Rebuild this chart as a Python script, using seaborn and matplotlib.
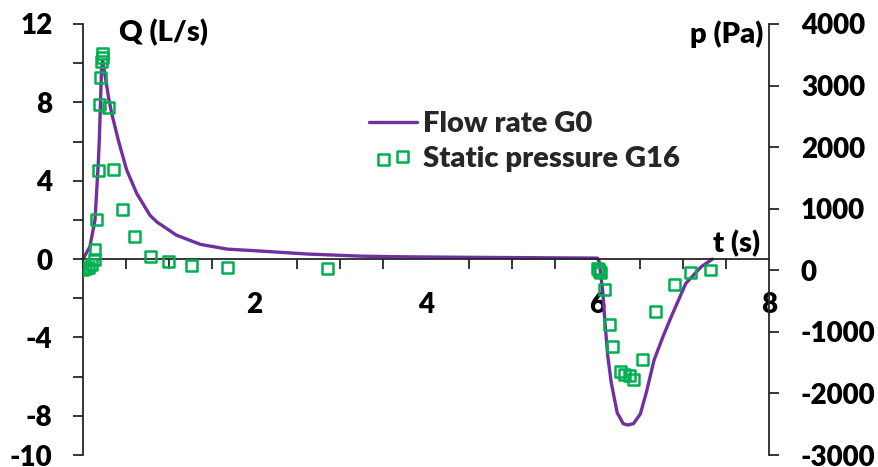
import matplotlib
matplotlib.use("Agg")
import matplotlib.pyplot as plt
from matplotlib.legend_handler import HandlerPathCollection
from matplotlib.ticker import FixedLocator, MultipleLocator, FuncFormatter
import pandas as pd
import seaborn as sns

# Flow rate G0 (left axis, L/s)
flow_t = [0.0, 0.08, 0.14, 0.16, 0.18, 0.19, 0.205, 0.215, 0.228, 0.26, 0.30,
          0.335, 0.412, 0.444, 0.51, 0.627, 0.78, 0.86, 1.09, 1.37, 1.68, 2.07,
          2.61, 3.24, 3.66, 4.5, 5.3, 6.0, 6.02, 6.06, 6.09, 6.12, 6.16, 6.23,
          6.30, 6.35, 6.42, 6.50, 6.57, 6.66, 6.76, 6.86, 7.03, 7.21, 7.34]
flow_q = [0.0, 0.63, 2.0, 3.5, 5.05, 6.07, 8.1, 9.6, 10.15, 9.3, 8.2,
          7.43, 6.07, 5.56, 4.54, 3.35, 2.24, 1.9, 1.22, 0.75, 0.51, 0.41,
          0.26, 0.15, 0.12, 0.09, 0.07, 0.05, -0.14, -1.6, -3.4, -4.95, -6.3, -7.85,
          -8.4, -8.47, -8.4, -7.9, -6.8, -5.15, -4.0, -2.94, -1.24, -0.39, 0.0]

# Static pressure G16 (right axis, Pa)
press_t = [0.0, 0.03, 0.07, 0.10, 0.13, 0.14, 0.16, 0.18, 0.19, 0.207, 0.218,
           0.222, 0.225, 0.296, 0.354, 0.46, 0.60, 0.79, 1.0, 1.27, 1.69, 2.85,
           6.0, 6.01, 6.02, 6.03, 6.08, 6.14, 6.18, 6.27, 6.31, 6.37, 6.42,
           6.53, 6.68, 6.90, 7.09, 7.32]
press_p = [20, 25, 50, 100, 170, 345, 820, 1615, 2700, 3135, 3390,
           3450, 3515, 2640, 1640, 980, 550, 230, 140, 85, 45, 25,
           30, 10, -20, -40, -305, -885, -1240, -1645, -1700, -1715, -1770,
           -1445, -670, -225, -35, 5]

q_ticks = [12, 10, 8, 6, 4, 2, 0, -2, -4, -6, -8, -10]
q_labels = [12, 8, 4, 0, -4, -8, -10]
p_ticks = [4000, 3000, 2000, 1000, 0, -1000, -2000, -3000]
t_major = [2, 4, 6, 8]

purple = "#7030A0"
green = "#00B050"
ink = "#262626"
weight = "heavy"

sns.set_theme(style="white")
plt.rcParams["font.family"] = ["Lato", "DejaVu Sans"]
plt.rcParams["font.weight"] = weight
fs_tick = 20
fs_text = 21

W, H = 879, 467
fig = plt.figure(figsize=(W / 100, H / 100), dpi=100)
x0, x1, y0, y1 = 83, 769, 24, 455
ax = fig.add_axes([x0 / W, 1 - y1 / H, (x1 - x0) / W, (y1 - y0) / H])
ax2 = ax.twinx()

flow = pd.DataFrame({"t": flow_t, "Q": flow_q})
press = pd.DataFrame({"t": press_t, "p": press_p})

sns.lineplot(data=flow, x="t", y="Q", ax=ax, color=purple, lw=2.4,
             sort=False, estimator=None, label="Flow rate G0", legend=False)
sns.scatterplot(data=press, x="t", y="p", ax=ax2, marker="s", s=62,
                facecolor="none", edgecolor=green, linewidth=1.8,
                label="Static pressure G16", legend=False)
ax2.collections[0].set_facecolor("none")

ax.set_xlim(0, 8)
ax.set_ylim(-10, 12)
ax2.set_ylim(-3000, 4000)
ax.set_xlabel("")
ax.set_ylabel("")
ax2.set_ylabel("")
ax.grid(False)
ax2.grid(False)
ax.patch.set_alpha(0)

for s in ("top", "right"):
    ax.spines[s].set_visible(False)
for s in ("top", "bottom", "left"):
    ax2.spines[s].set_visible(False)
ax.spines["bottom"].set_position(("data", 0))
for a, s in ((ax, "left"), (ax, "bottom"), (ax2, "right")):
    a.spines[s].set_color(ink)
    a.spines[s].set_linewidth(1.3)

# y axes
ax.yaxis.set_major_locator(FixedLocator(q_ticks))
ax.yaxis.set_major_formatter(FuncFormatter(lambda v, _: f"{v:.0f}" if round(v) in q_labels else ""))
ax.tick_params(axis="y", direction="out", length=7, width=1.3, color=ink,
               labelsize=fs_tick, pad=15, labelcolor="black")
ax2.yaxis.set_major_locator(FixedLocator(p_ticks))
ax2.yaxis.set_major_formatter(FuncFormatter(lambda v, _: f"{v:.0f}"))
ax2.tick_params(axis="y", direction="out", length=7, width=1.3, color=ink,
                labelsize=fs_tick, pad=16, labelcolor="black")

# x axis on the zero line
ax.xaxis.set_major_locator(FixedLocator(t_major))
ax.xaxis.set_minor_locator(MultipleLocator(0.5))
ax.xaxis.set_major_formatter(FuncFormatter(lambda v, _: f"{v:.0f}"))
ax.tick_params(axis="x", which="major", direction="inout", length=12, width=1.3,
               color=ink, labelsize=fs_tick, pad=18, labelcolor="black")
ax.tick_params(axis="x", which="minor", direction="out", length=7, width=1.3,
               color=ink, bottom=True)
ax2.tick_params(axis="x", which="both", bottom=False, labelbottom=False)
for lab in ax.get_xticklabels() + ax.get_yticklabels() + ax2.get_yticklabels():
    lab.set_fontweight(weight)

# axis titles
tkw = dict(fontsize=fs_text, fontweight=weight, color="black", va="baseline", ha="left")
fig.text(119 / W, 1 - 41 / H, "Q (L/s)", **tkw)
fig.text(690 / W, 1 - 43 / H, "p (Pa)", **tkw)
fig.text(713 / W, 1 - 252 / H, "t (s)", **tkw)

# combined legend for both axes
handles = [ax.lines[0], ax2.collections[0]]
leg = ax.legend(handles, ["Flow rate G0", "Static pressure G16"],
                loc="upper left",
                bbox_to_anchor=((369 - x0) / (x1 - x0), 1 - (111 - y0) / (y1 - y0)),
                frameon=False, fontsize=fs_text, handlelength=1.65, handletextpad=0.2,
                labelspacing=0.3, borderaxespad=0, borderpad=0, scatterpoints=2,
                handler_map={type(ax2.collections[0]): HandlerPathCollection(marker_pad=0.5)})
for txt in leg.get_texts():
    txt.set_fontweight(weight)

fig.savefig("out.png", dpi=100)
